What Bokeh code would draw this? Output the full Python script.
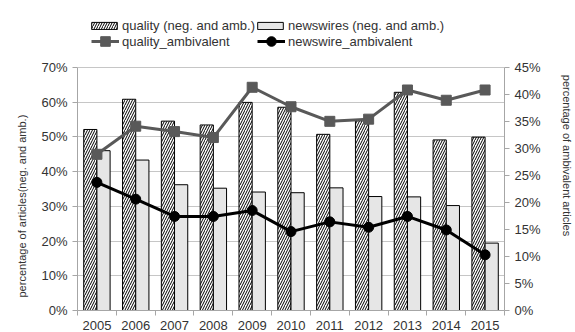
from bokeh.plotting import figure
from bokeh.models import (Range1d, LinearAxis, FixedTicker, PrintfTickFormatter,
                          Legend, LegendItem, ColumnDataSource, Title)
from bokeh.embed import file_html
from bokeh.resources import INLINE

years = ["2005", "2006", "2007", "2008", "2009", "2010", "2011", "2012", "2013", "2014", "2015"]
quality_neg_amb = [52.1, 60.8, 54.5, 53.4, 59.9, 58.5, 50.7, 54.6, 62.8, 49.1, 49.9]
newswires_neg_amb = [46.0, 43.3, 36.2, 35.2, 34.1, 33.9, 35.3, 32.8, 32.7, 30.2, 19.4]
quality_ambivalent = [28.9, 34.1, 33.1, 32.0, 41.3, 37.7, 35.0, 35.4, 40.8, 38.9, 40.8]
newswire_ambivalent = [23.7, 20.6, 17.4, 17.4, 18.5, 14.6, 16.4, 15.4, 17.4, 14.9, 10.3]
left_ticks = [0, 10, 20, 30, 40, 50, 60, 70]
right_ticks = [0, 5, 10, 15, 20, 25, 30, 35, 40, 45]

FONT = "Liberation Sans"
TXT = "#333333"
AX = "#a6a6a6"

# frame spans the canvas height above the x axis; the value axes occupy the lower 244 px
H_TOTAL, H_AXIS = 311.0, 244.0
left_max = left_ticks[-1] * H_TOTAL / H_AXIS
right_max = right_ticks[-1] * H_TOTAL / H_AXIS

n = len(years)
centers = [i + 0.5 for i in range(n)]
src = ColumnDataSource(dict(
    xc=centers,
    xq=[c - 0.17 for c in centers],
    xn=[c + 0.17 for c in centers],
    q=quality_neg_amb, nw=newswires_neg_amb,
    qa=quality_ambivalent, na=newswire_ambivalent,
))

p = figure(width=575, height=332, output_backend="svg", toolbar_location=None,
           x_range=Range1d(0, n), y_range=Range1d(0, left_max),
           min_border_left=77, min_border_right=64, min_border_top=0, min_border_bottom=21)
p.extra_y_ranges = {"right": Range1d(0, right_max)}
p.outline_line_color = None
p.background_fill_color = "white"
p.border_fill_color = "white"

bq = p.vbar(x="xq", top="q", width=0.34, source=src, fill_color="white",
            line_color="black", line_width=1, hatch_pattern="/", hatch_color="black",
            hatch_scale=5, hatch_weight=1)
bn = p.vbar(x="xn", top="nw", width=0.34, source=src, fill_color="#e6e6e6",
            line_color="black", line_width=1)

lq = p.line(x="xc", y="qa", source=src, y_range_name="right", line_color="#595959", line_width=3)
mq = p.scatter(x="xc", y="qa", source=src, y_range_name="right", marker="square", size=10,
               fill_color="#595959", line_color="#595959")
ln = p.line(x="xc", y="na", source=src, y_range_name="right", line_color="black", line_width=3)
mn = p.scatter(x="xc", y="na", source=src, y_range_name="right", marker="circle", size=10,
               fill_color="black", line_color="black")

# x axis
xa = p.xaxis[0]
xa.ticker = FixedTicker(ticks=centers, minor_ticks=list(range(n + 1)))
xa.major_label_overrides = {c: y for c, y in zip(centers, years)}
xa.major_tick_out = 0
xa.major_tick_in = 0
xa.minor_tick_out = 5
xa.minor_tick_in = 0
xa.minor_tick_line_color = AX
xa.axis_line_color = AX
xa.major_label_standoff = 5
p.xgrid.visible = False

# left axis
ya = p.yaxis[0]
ya.ticker = FixedTicker(ticks=left_ticks)
ya.bounds = (left_ticks[0], left_ticks[-1])
ya.formatter = PrintfTickFormatter(format="%d%%")
ya.minor_tick_line_color = None
ya.major_tick_out = 5
ya.major_tick_in = 0
ya.major_tick_line_color = AX
ya.axis_line_color = AX
p.ygrid.ticker = FixedTicker(ticks=left_ticks)
p.ygrid.bounds = (left_ticks[0], left_ticks[-1])
p.ygrid.grid_line_color = "#c6c6c6"

# right axis
ra = LinearAxis(y_range_name="right", ticker=FixedTicker(ticks=right_ticks),
                formatter=PrintfTickFormatter(format="%d%%"),
                bounds=(right_ticks[0], right_ticks[-1]))
ra.minor_tick_line_color = None
ra.major_tick_out = 5
ra.major_tick_in = 0
ra.major_tick_line_color = AX
ra.axis_line_color = AX
ra.axis_label = "percentage of ambivalent articles"
ra.axis_label_standoff = 17
p.add_layout(ra, "right")

for ax in (xa, ya, ra):
    ax.major_label_text_font = FONT
    ax.major_label_text_font_size = "13px"
    ax.major_label_text_color = TXT
    ax.axis_label_text_font = FONT
    ax.axis_label_text_font_size = "11px"
    ax.axis_label_text_font_style = "normal"
    ax.axis_label_text_color = TXT

# left axis title, placed from the bottom of the axis
p.add_layout(Title(text="percentage of articles(neg. and amb.)", align="left",
                   offset=13, standoff=21, text_font=FONT, text_font_size="11px",
                   text_font_style="normal", text_color=TXT), "left")

def mk_legend(label, renderers, loc, gw, gh, ls):
    lg = Legend(items=[LegendItem(label=label, renderers=renderers)], location=loc,
                glyph_width=gw, glyph_height=gh, label_standoff=ls, padding=0, margin=0,
                spacing=0, border_line_color=None, background_fill_alpha=0,
                label_text_font=FONT, label_text_font_size="13px", label_text_color=TXT)
    p.add_layout(lg, "center")

mk_legend("quality (neg. and amb.)", [bq], (11, 277), 32, 9, 2)
mk_legend("newswires (neg. and amb.)", [bn], (177, 277), 32, 9, 2)
mk_legend("quality_ambivalent", [lq, mq], (14, 257), 28, 24, 3)
mk_legend("newswire_ambivalent", [ln, mn], (180, 257), 28, 24, 3)

open("out.html", "w").write(file_html(p, INLINE))
